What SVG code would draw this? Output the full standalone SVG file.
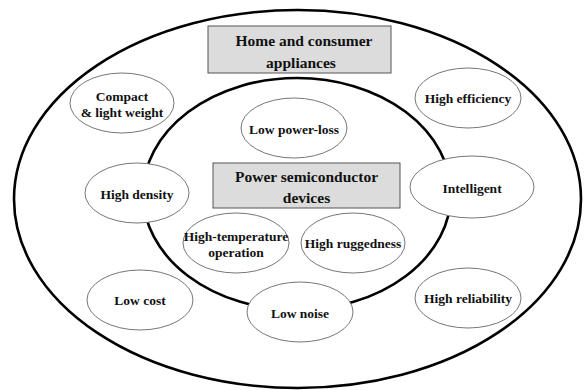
<svg xmlns="http://www.w3.org/2000/svg" width="584" height="390" viewBox="0 0 584 390">
  <style>
    .ring { fill: none; stroke: #000; stroke-width: 2.6; }
    .box { fill: #dcdcdc; stroke: #555; stroke-width: 1; }
    .oval { fill: #fff; stroke: #666; stroke-width: 0.9; }
    text { font-family: "Liberation Serif", "Times New Roman", serif; font-weight: bold; fill: #111; text-anchor: middle; dominant-baseline: central; }
    .title { font-size: 15.5px; }
    .lbl { font-size: 13.5px; }
  </style>
  <rect width="584" height="390" fill="#fff"/>

  <!-- nested domains -->
  <g id="connectors">
    <ellipse class="ring" cx="297.5" cy="199" rx="283.5" ry="189"/>
    <ellipse class="ring" cx="297" cy="194" rx="154" ry="116"/>
  </g>

  <g id="home-appliances">
    <rect class="box" x="208" y="26" width="183" height="47"/>
    <text class="title" x="304" y="40">Home and consumer</text>
    <text class="title" x="301" y="62">appliances</text>
  </g>

  <g id="power-devices">
    <rect class="box" x="213" y="163" width="187" height="45"/>
    <text class="title" x="306.5" y="176">Power semiconductor</text>
    <text class="title" x="306.5" y="197">devices</text>
  </g>

  <g id="compact">
    <ellipse class="oval" cx="122" cy="103" rx="52" ry="30"/>
    <text class="lbl" x="122" y="96">Compact</text>
    <text class="lbl" x="122" y="112">&amp; light weight</text>
  </g>

  <g id="low-power-loss">
    <ellipse class="oval" cx="294" cy="128" rx="53" ry="30"/>
    <text class="lbl" x="294" y="129">Low power-loss</text>
  </g>

  <g id="high-efficiency">
    <ellipse class="oval" cx="468" cy="98" rx="53" ry="30"/>
    <text class="lbl" x="468" y="98">High efficiency</text>
  </g>

  <g id="high-density">
    <ellipse class="oval" cx="137" cy="193" rx="52" ry="30"/>
    <text class="lbl" x="137" y="194">High density</text>
  </g>

  <g id="intelligent">
    <ellipse class="oval" cx="472" cy="187" rx="62" ry="31"/>
    <text class="lbl" x="472" y="188">Intelligent</text>
  </g>

  <g id="high-temperature">
    <ellipse class="oval" cx="236" cy="243" rx="53" ry="30"/>
    <text class="lbl" x="236" y="236">High-temperature</text>
    <text class="lbl" x="236" y="252">operation</text>
  </g>

  <g id="high-ruggedness">
    <ellipse class="oval" cx="353" cy="243" rx="52" ry="30"/>
    <text class="lbl" x="353" y="243">High ruggedness</text>
  </g>

  <g id="low-cost">
    <ellipse class="oval" cx="140" cy="300" rx="53" ry="30"/>
    <text class="lbl" x="140" y="300">Low cost</text>
  </g>

  <g id="low-noise">
    <ellipse class="oval" cx="300" cy="312" rx="53" ry="30"/>
    <text class="lbl" x="300" y="313">Low noise</text>
  </g>

  <g id="high-reliability">
    <ellipse class="oval" cx="468" cy="298" rx="53" ry="30"/>
    <text class="lbl" x="468" y="298">High reliability</text>
  </g>
</svg>
